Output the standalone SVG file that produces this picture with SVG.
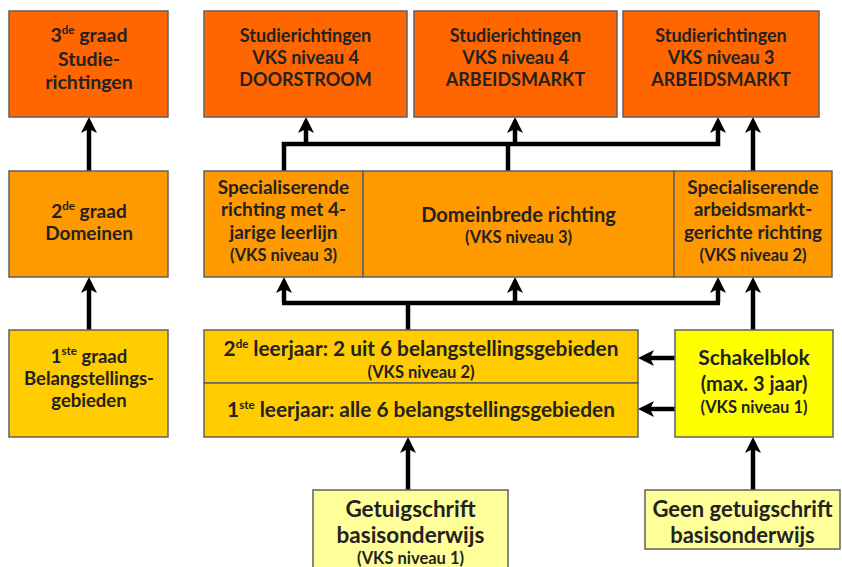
<svg xmlns="http://www.w3.org/2000/svg" width="842" height="567" viewBox="0 0 842 567">
<defs>
<marker id="ah" markerUnits="userSpaceOnUse" viewBox="0 0 16 16" refX="6" refY="8" markerWidth="16" markerHeight="16" orient="auto">
<path d="M0,0 L16,8 L0,16 L4,8 Z" fill="#000"/>
</marker>
<style>
rect{stroke:#606060;stroke-width:1.5}
.o1{fill:#FF6600}
.o2{fill:#FF9900}
.o3{fill:#FFCC00}
.y1{fill:#FFFF00}
.y2{fill:#FFFF99}
text{font-family:Lato,"Liberation Sans",sans-serif;font-weight:bold;fill:#222;text-anchor:middle;font-size:18px}
.s{font-size:16.5px}
.m{font-size:19px}
.g3{font-size:19.5px}
.g1{font-size:18.5px}
.lj{font-size:20.8px}
.dm{font-size:20px}
.sk{font-size:21px}
.gt{font-size:22.5px}
.gg{font-size:22px}
.sup{font-size:11.5px}
.c{fill:none;stroke:#000;stroke-width:4.5;stroke-linejoin:miter}
.a{marker-end:url(#ah)}
</style>
</defs>
<g id="connectors">
<path class="c a" d="M89,330 V287"/>
<path class="c a" d="M89,171 V127"/>
<path class="c a" d="M284,171 V144 H718 V127"/>
<path class="c a" d="M306,144 V127"/>
<path class="c a" d="M515,144 V127"/>
<path class="c" d="M508,171 V144"/>
<path class="c a" d="M753,171 V127"/>
<path class="c" d="M408,330 V303"/>
<path class="c a" d="M284,303 V287"/>
<path class="c a" d="M718,303 V287"/>
<path class="c a" d="M515,303 V287"/>
<path class="c" d="M282,303 H720"/>
<path class="c a" d="M753,330 V287"/>
<path class="c a" d="M675,358 H648"/>
<path class="c a" d="M675,409 H648"/>
<path class="c a" d="M408,490 V447"/>
<path class="c a" d="M753,490 V447"/>
</g>
<g id="graad3">
<rect class="o1" x="9" y="11" width="159" height="106"/>
<text x="89" y="42" class="g3">3<tspan class="sup" dy="-8">de</tspan><tspan dy="8"> graad</tspan></text>
<text x="89" y="66" class="g3">Studie-</text>
<text x="89" y="89" class="g3">richtingen</text>
</g>
<g id="studie1">
<rect class="o1" x="204" y="11" width="203" height="106"/>
<text x="305.5" y="42">Studierichtingen</text>
<text x="305.5" y="64">VKS niveau 4</text>
<text x="305.5" y="86">DOORSTROOM</text>
</g>
<g id="studie2">
<rect class="o1" x="414" y="11" width="203" height="106"/>
<text x="515.5" y="42">Studierichtingen</text>
<text x="515.5" y="64">VKS niveau 4</text>
<text x="515.5" y="86">ARBEIDSMARKT</text>
</g>
<g id="studie3">
<rect class="o1" x="623" y="11" width="196" height="106"/>
<text x="721" y="42">Studierichtingen</text>
<text x="721" y="64">VKS niveau 3</text>
<text x="721" y="86">ARBEIDSMARKT</text>
</g>
<g id="graad2">
<rect class="o2" x="9" y="171" width="159" height="106"/>
<text x="89" y="218" class="m">2<tspan class="sup" dy="-8">de</tspan><tspan dy="8"> graad</tspan></text>
<text x="89" y="240" class="m">Domeinen</text>
</g>
<g id="spec4">
<rect class="o2" x="204" y="171" width="159" height="106"/>
<text x="283.5" y="194" class="m">Specialiserende</text>
<text x="283.5" y="216" class="m">richting met 4-</text>
<text x="283.5" y="239" class="m">jarige leerlijn</text>
<text x="283.5" y="261" class="s">(VKS niveau 3)</text>
</g>
<g id="domein">
<rect class="o2" x="363" y="171" width="311" height="106"/>
<text x="518.5" y="222" class="dm">Domeinbrede richting</text>
<text x="518.5" y="243" class="s">(VKS niveau 3)</text>
</g>
<g id="specarb">
<rect class="o2" x="674" y="171" width="158" height="106"/>
<text x="753" y="194" class="m">Specialiserende</text>
<text x="753" y="216" class="m">arbeidsmarkt-</text>
<text x="753" y="239" class="m">gerichte richting</text>
<text x="753" y="261" class="s">(VKS niveau 2)</text>
</g>
<g id="graad1">
<rect class="o3" x="9" y="330" width="159" height="107"/>
<text x="89" y="363" class="g1">1<tspan class="sup" dy="-8">ste</tspan><tspan dy="8"> graad</tspan></text>
<text x="89" y="385" class="g1">Belangstellings-</text>
<text x="89" y="407" class="g1">gebieden</text>
</g>
<g id="leerjaar2">
<rect class="o3" x="204" y="330" width="434" height="53"/>
<text x="421" y="356" class="lj">2<tspan class="sup" dy="-8">de</tspan><tspan dy="8"> leerjaar: 2 uit 6 belangstellingsgebieden</tspan></text>
<text x="421" y="378" class="s">(VKS niveau 2)</text>
</g>
<g id="leerjaar1">
<rect class="o3" x="204" y="383" width="434" height="54"/>
<text x="421" y="417" class="lj">1<tspan class="sup" dy="-8">ste</tspan><tspan dy="8"> leerjaar: alle 6 belangstellingsgebieden</tspan></text>
</g>
<g id="schakelblok">
<rect class="y1" x="675" y="330" width="158" height="107"/>
<text x="754" y="365" class="sk">Schakelblok</text>
<text x="754" y="391" class="dm">(max. 3 jaar)</text>
<text x="754" y="413" class="s">(VKS niveau 1)</text>
</g>
<g id="getuigschrift">
<rect class="y2" x="313" y="490" width="195" height="90"/>
<text x="410.5" y="517" class="gt">Getuigschrift</text>
<text x="410.5" y="543" class="gt">basisonderwijs</text>
<text x="410.5" y="564" class="s">(VKS niveau 1)</text>
</g>
<g id="geengetuigschrift">
<rect class="y2" x="645" y="490" width="195" height="59"/>
<text x="742.5" y="517" class="gg">Geen getuigschrift</text>
<text x="742.5" y="543" class="gg">basisonderwijs</text>
</g>
</svg>
